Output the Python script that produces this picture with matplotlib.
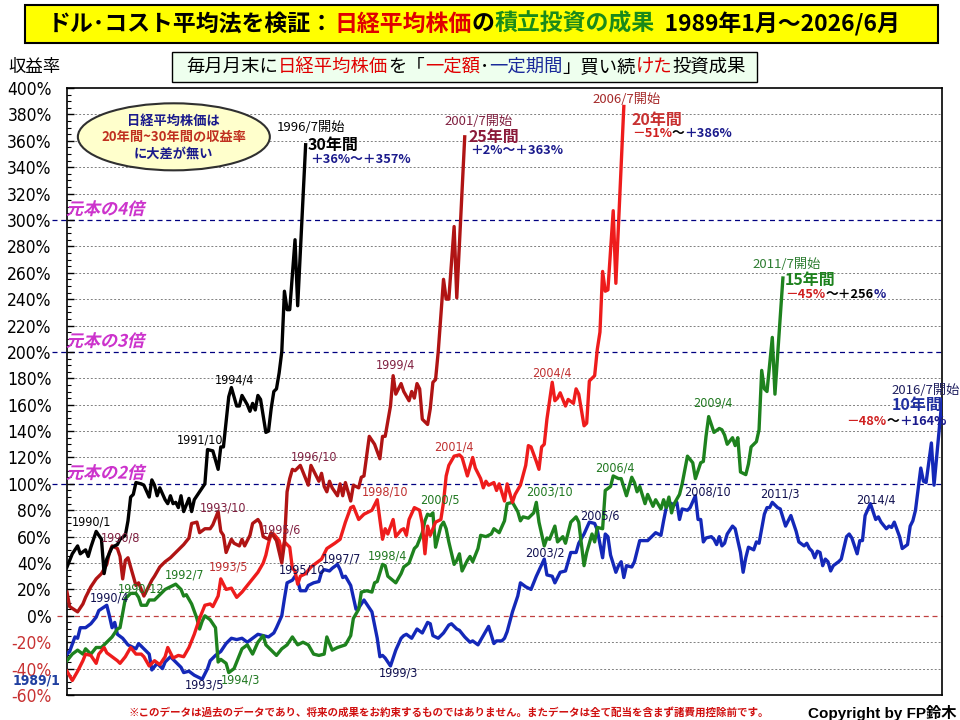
import matplotlib
matplotlib.use("Agg")
import matplotlib.pyplot as plt
import matplotlib.transforms as mtransforms
from matplotlib.patches import Ellipse, Rectangle, PathPatch
from matplotlib.textpath import TextPath
from matplotlib.font_manager import FontProperties
from matplotlib import font_manager

JP = "Noto Sans CJK JP"
_names = {f.name for f in font_manager.fontManager.ttflist}
NARROW = "Liberation Sans Narrow" if "Liberation Sans Narrow" in _names else "DejaVu Sans"

# x = months since 1989/1 (start month of the plan), y = total return in %
y30 = [(0,37),(2,47),(4,53),(5,47),(7,50),(8,45),(9,52),(11,64),(13,58),(14,32),(15,43),(17,52),
       (19,54),(20,58),(22,61),(23,72),(24,90),(25,92),(26,101),(28,100),(29,99),(31,90),(32,103),
       (33,99),(34,91),(35,97),(37,88),(38,85),(39,91),(40,85),(41,86),(42,82),(43,91),(44,79),
       (46,89),(47,79),(48,88),(50,94),(52,100),(53,126),(55,125),(57,111),(58,128),(59,128),
       (61,166),(62,173),(64,159),(65,159),(66,167),(68,160),(69,155),(70,161),(71,156),(72,167),
       (73,164),(75,139),(76,140),(77,157),(78,170),(79,172),(80,184),(81,200),(82,246),(83,232),
       (84,232),(86,285),(87,235),(90,357)]

y25 = [(0,18),(1,7),(4,3),(6,9),(7,14),(9,22),(11,28),(13,32),(15,39),(16,48),(17,53),(19,51),
       (20,45),(21,28),(22,42),(23,44),(25,30),(26,23),(27,25),(28,20),(29,15),(31,23),(32,27),
       (33,30),(35,37),(37,41),(39,44),(41,48),(42,50),(44,54),(46,59),(47,70),(49,71),(50,63),
       (52,66),(54,66),(55,69),(57,79),(58,64),(59,61),(60,48),(62,58),(63,55),(65,53),(66,58),
       (67,53),(69,61),(70,70),(72,73),(73,70),(74,60),(76,58),(77,63),(79,57),(81,40),(82,55),
       (83,94),(84,104),(85,111),(86,110),(88,114),(89,109),(91,99),(92,114),(94,106),(95,102),
       (96,108),(97,98),(98,94),(99,102),(100,97),(102,91),(103,100),(104,91),(105,101),(107,87),
       (108,99),(110,97),(111,105),(112,106),(114,136),(116,130),(118,119),(119,136),(120,136),
       (122,159),(123,182),(124,168),(126,176),(127,170),(129,163),(130,170),(131,165),(132,176),
       (133,172),(134,149),(136,145),(137,157),(138,177),(139,179),(140,200),(142,255),(143,240),
       (144,240),(146,295),(147,241),(150,363)]

y20 = [(0,-42),(2,-49),(4,-42),(6,-34),(7,-29),(9,-30),(11,-36),(12,-29),(14,-24),(15,-28),
       (17,-31),(19,-34),(20,-36),(22,-31),(24,-24),(26,-29),(28,-29),(29,-31),(31,-38),(33,-34),
       (35,-37),(37,-31),(38,-24),(40,-32),(42,-30),(44,-31),(46,-24),(48,-14),(50,-2),(52,8),
       (54,9),(55,7),(57,15),(58,28),(60,20),(62,21),(64,14),(66,18),(68,23),(70,28),(72,33),
       (74,40),(75,46),(76,55),(77,62),(78,62),(80,57),(81,48),(82,56),(84,52),(85,36),(86,34),
       (87,24),(88,30),(90,32),(92,37),(94,40),(96,43),(98,51),(101,55),(103,58),(105,71),(107,82),
       (108,83),(110,73),(112,77),(115,80),(117,88),(118,73),(119,58),(120,66),(121,62),(123,73),
       (124,60),(126,65),(127,66),(128,61),(129,73),(131,82),(133,80),(134,70),(135,47),(136,68),
       (137,61),(139,71),(141,73),(142,86),(143,106),(144,114),(146,121),(148,122),(149,120),
       (151,106),(153,120),(154,112),(156,104),(157,97),(158,102),(159,99),(161,101),(162,95),
       (163,100),(165,87),(166,100),(168,86),(169,92),(171,99),(173,114),(174,129),(175,128),
       (177,117),(178,111),(179,128),(180,130),(181,149),(182,163),(183,177),(184,163),(185,165),
       (186,169),(188,159),(189,164),(191,161),(192,172),(193,168),(195,144),(196,146),(197,178),
       (199,182),(200,202),(201,215),(202,261),(203,246),(204,247),(206,307),(207,252),(210,386)]

y15 = [(0,-34),(2,-29),(4,-26),(6,-29),(7,-25),(9,-29),(11,-24),(13,-24),(15,-20),(17,-16),
       (19,-10),(20,-9),(21,2),(22,13),(24,17),(26,17),(27,14),(28,8),(30,8),(31,12),(33,12),
       (35,16),(37,20),(39,22),(41,24),(43,20),(44,15),(45,16),(47,9),(49,-2),(50,-10),(51,-4),
       (52,0),(54,-3),(56,-9),(57,-35),(58,-33),(60,-36),(61,-43),(63,-40),(65,-30),(66,-25),
       (68,-22),(70,-29),(72,-20),(74,-15),(75,-22),(77,-26),(79,-30),(81,-25),(83,-22),(85,-16),
       (87,-22),(89,-20),(91,-22),(93,-29),(95,-30),(97,-29),(98,-16),(100,-26),(102,-24),
       (105,-22),(107,-15),(108,-2),(110,5),(111,18),(113,19),(115,18),(116,25),(117,26),(119,39),
       (120,38),(121,30),(124,25),(126,32),(127,37),(129,40),(131,51),(132,53),(134,63),(135,72),
       (136,77),(137,76),(138,78),(139,52),(141,68),(142,71),(143,66),(144,56),(146,39),(147,42),
       (148,47),(149,34),(151,42),(152,45),(153,41),(155,51),(156,61),(158,60),(160,62),(161,66),
       (163,63),(165,72),(166,85),(168,86),(170,79),(171,72),(172,75),(174,74),(176,78),(177,86),
       (178,71),(180,53),(181,59),(182,58),(184,68),(185,56),(187,60),(188,55),(190,71),(192,75),
       (193,71),(195,38),(196,48),(198,62),(199,56),(200,67),(202,66),(203,95),(205,98),(206,106),
       (208,104),(209,104),(211,91),(213,105),(214,101),(215,94),(216,98),(218,85),(219,92),
       (221,83),(222,88),(224,81),(225,88),(226,82),(227,90),(228,78),(229,85),(231,92),(232,100),
       (234,121),(236,116),(237,104),(239,116),(240,117),(241,136),(242,151),(244,139),(246,142),
       (247,141),(248,137),(249,130),(251,135),(252,129),(253,135),(254,109),(256,107),(257,115),
       (258,128),(260,132),(261,141),(262,186),(263,172),(264,170),(266,211),(267,168),(270,256)]

y10 = [(0,-29),(1,-27),(3,-16),(4,-17),(5,-9),(7,-9),(9,-6),(11,-1),(12,4),(15,8),(16,0),(17,-9),
       (18,-5),(19,-14),(21,-17),(23,-22),(25,-24),(26,-25),(27,-21),(29,-25),(31,-29),(32,-41),
       (34,-36),(35,-38),(36,-40),(37,-35),(39,-31),(41,-35),(43,-39),(44,-43),(46,-42),(48,-45),
       (49,-46),(51,-48),(53,-40),(54,-34),(56,-30),(58,-27),(60,-21),(62,-17),(64,-18),(66,-17),
       (68,-20),(70,-17),(72,-14),(74,-15),(76,-16),(78,-13),(79,-9),(81,0),(82,13),(83,25),(85,27),
       (86,30),(87,27),(88,19),(90,19),(91,23),(93,25),(95,26),(96,33),(97,35),(99,34),(100,36),
       (102,39),(103,35),(104,29),(105,30),(107,23),(108,14),(109,5),(110,6),(112,12),(113,9),
       (115,3),(117,-17),(118,-31),(119,-30),(120,-32),(122,-38),(124,-26),(126,-17),(127,-15),
       (128,-14),(130,-17),(132,-10),(134,-13),(136,-5),(137,-6),(138,-15),(140,-17),(142,-13),
       (144,-7),(145,-6),(147,-10),(148,-11),(150,-16),(152,-20),(153,-19),(155,-22),(157,-15),
       (159,-8),(161,-21),(162,-19),(164,-19),(165,-17),(166,-12),(168,3),(170,15),(171,25),
       (173,22),(175,20),(177,30),(180,43),(181,31),(183,30),(184,25),(186,33),(188,34),(189,41),
       (190,48),(192,48),(193,55),(195,62),(197,71),(199,70),(200,65),(202,44),(203,62),(204,60),
       (205,46),(207,33),(208,38),(209,41),(210,29),(211,38),(213,37),(214,41),(215,49),(216,57),
       (219,57),(221,61),(222,63),(224,61),(225,72),(226,82),(227,86),(229,84),(230,86),(231,73),
       (232,81),(234,80),(235,82),(237,91),(238,73),(239,73),(240,56),(241,59),(243,60),(244,58),
       (245,54),(246,60),(247,53),(248,55),(249,62),(251,68),(252,66),(254,48),(255,33),(256,44),
       (257,52),(259,50),(260,56),(261,55),(263,77),(264,82),(265,82),(266,86),(268,82),(269,81),
       (271,68),(273,76),(274,70),(275,64),(276,56),(278,53),(279,55),(280,51),(281,49),(282,44),
       (283,49),(284,48),(285,38),(286,43),(287,41),(288,34),(289,38),(291,41),(292,43),(294,60),
       (295,62),(296,59),(298,47),(299,57),(300,57),(301,76),(303,85),(305,73),(306,75),(307,71),
       (309,66),(310,68),(311,67),(312,71),(314,60),(315,51),(317,54),(318,68),(319,72),(320,80),
       (322,112),(323,102),(324,101),(326,131),(327,99),(330,164)]

BLACK, MAROON, RED, GREEN, BLUE = "#000000", "#B01414", "#EE1C1C", "#1E821E", "#1428B8"
NAVY = "#1A1A8C"
LBL = {"k": "#000000", "m": "#802040", "r": "#C03030", "g": "#207820", "b": "#101050"}

# (text, start month, value, colour key) for the small date labels
date_labels = [
    ("1990/1", 9.4, 71, "k"), ("1991/10", 50, 133, "k"), ("1994/4", 63, 179, "k"),
    ("1990/8", 20, 59, "m"), ("1993/10", 59, 82, "m"), ("1995/6", 81, 65, "m"),
    ("1996/10", 93, 120, "m"), ("1999/4", 124, 190, "m"),
    ("1993/5", 61, 37, "r"), ("1998/10", 120, 94, "r"), ("2001/4", 146, 128, "r"),
    ("2004/4", 183, 184, "r"),
    ("1990/12", 28, 20, "g"), ("1992/7", 44.5, 31, "g"), ("1994/3", 65.6, -48.6, "g"),
    ("1998/4", 121, 45, "g"), ("2000/5", 140.7, 88, "g"), ("2003/10", 182, 94, "g"),
    ("2006/4", 206.7, 112, "g"), ("2009/4", 243.6, 161, "g"),
    ("1990/4", 16, 13.5, "b"), ("1993/5", 51.7, -52.4, "b"), ("1995/10", 88.6, 34.7, "b"),
    ("1997/7", 103.7, 43, "b"), ("1999/3", 125, -43, "b"), ("2003/2", 180.3, 47.6, "b"),
    ("2005/6", 201, 76, "b"), ("2008/10", 241.4, 94, "b"), ("2011/3", 269, 92, "b"),
    ("2014/4", 305, 88, "b"),
]

# "x times the principal" notes: text, value of its baseline
multiple_notes = [("元本の4倍", 304), ("元本の3倍", 204), ("元本の2倍", 104)]

fig = plt.figure(figsize=(9.6, 7.2), dpi=100)
ax = fig.add_axes([67/960, 1-695/720, 875/960, 607/720])

for data, color in [(y10, BLUE), (y15, GREEN), (y20, RED), (y25, MAROON), (y30, BLACK)]:
    m, v = zip(*data)
    ax.plot(m, v, color=color, lw=2.4, solid_joinstyle="round", zorder=3)

ax.set_xlim(0, 330)
ax.set_ylim(-60, 400)
ax.set_xticks([])
yt = list(range(-60, 401, 20))
ax.set_yticks(yt)
ax.set_yticks(range(-60, 401, 5), minor=True)
ax.set_yticklabels([f"{t}%" for t in yt], fontsize=12.5, family=NARROW, fontstretch="condensed")
for lab, t in zip(ax.get_yticklabels(), yt):
    if t < 0:
        lab.set_color("#C83232")
ax.tick_params(axis="y", which="major", direction="in", length=5, width=1, pad=11)
ax.tick_params(axis="y", which="minor", direction="in", length=3, width=0.8)
for s in ax.spines.values():
    s.set_linewidth(1.2)

# grid lines
for t in range(-40, 400, 20):
    if t == 0:
        ax.axhline(t, xmin=-0.012, color="#C04040", lw=0.9, ls=(0, (4, 3)), clip_on=False, zorder=1)
    elif t in (100, 200, 300):
        ax.axhline(t, xmin=-0.017, color="#000080", lw=0.9, ls=(0, (4, 3)), clip_on=False, zorder=1)
    else:
        ax.axhline(t, color="#808080", lw=0.7, ls=(0, (2, 2)), zorder=1)

# slanted magenta notes (CJK font has no italic, so skew the glyph outlines)
fig.canvas.draw()
bold_jp = FontProperties(family=JP, weight="bold")
for txt, val in multiple_notes:
    px, py = ax.transData.transform((-0.4, val))
    tp = TextPath((0, 0), txt, size=17, prop=bold_jp)
    tr = mtransforms.Affine2D().skew_deg(14, 0).translate(px, py)
    fig.add_artist(PathPatch(tp, transform=tr, fc="#CC33CC", ec="none", zorder=4))

for txt, mm, vv, key in date_labels:
    ax.text(mm, vv, txt, color=LBL[key], fontsize=9, family=NARROW, fontstretch="condensed",
            ha="center", va="center", zorder=5)

ax.text(-11.5, -49, "1989/1", color="#2040A0", fontsize=10, weight="bold", family=NARROW,
        fontstretch="condensed", ha="center", va="center", clip_on=False)


def chain(x, y, parts, trans, size, weight="bold", family=JP):
    prev = None
    for s, c in parts:
        if prev is None:
            prev = ax.text(x, y, s, color=c, fontsize=size, weight=weight, family=family,
                           ha="left", va="center", transform=trans, clip_on=False, zorder=6)
        else:
            prev = ax.annotate(s, xy=(1, 0.5), xycoords=prev, color=c, fontsize=size,
                               weight=weight, family=family, ha="left", va="center",
                               annotation_clip=False, zorder=6)
    return prev


# end-of-series notes
ends = [
    (79.2, 369.7, "1996/7開始", BLACK, 90.9, 357, "30年間", BLACK, 91.6, 346,
     [("＋36%～＋357%", NAVY)]),
    (142.5, 374.5, "2001/7開始", "#802040", 151.6, 363, "25年間", "#8B1A3A", 152, 353,
     [("＋2%～＋363%", NAVY)]),
    (198, 391, "2006/7開始", "#A52A2A", 213, 376, "20年間", "#C83232", 213, 365.5,
     [("－51%", "#D02020"), ("～", BLACK), ("＋386%", NAVY)]),
    (258.7, 266, "2011/7開始", "#2E7D32", 270.8, 254.5, "15年間", "#1E821E", 270.8, 243.5,
     [("－45%", "#D02020"), ("～＋256", BLACK), ("%", NAVY)]),
    (311, 171, "2016/7開始", "#202060", 311, 160, "10年間", "#2030A0", 294, 147,
     [("－48%", "#D02020"), ("～", BLACK), ("＋164%", NAVY)]),
]
for sx, sy, st, sc, px, py, pt, pc, rx, ry, parts in ends:
    ax.text(sx, sy, st, color=sc, fontsize=9.5, family=JP, ha="left", va="center", clip_on=False, zorder=6)
    ax.text(px, py, pt, color=pc, fontsize=11.5, weight="bold", family=JP, ha="left", va="center",
            clip_on=False, zorder=6)
    chain(rx, ry, parts, ax.transData, 9.2)

# ellipse note
ax.add_patch(Ellipse((40.3, 363), 72.4, 50.8, fc="#FFFFCC", ec="#303030", lw=1.5, zorder=5))
ax.text(40.3, 375, "日経平均株価は", color=NAVY, fontsize=9.5, weight="bold", family=JP,
        ha="center", va="center", zorder=6)
ax.text(40.3, 363, "20年間~30年間の収益率", color="#C03020", fontsize=9.5, weight="bold", family=JP,
        ha="center", va="center", zorder=6)
ax.text(40.3, 350.5, "に大差が無い", color=NAVY, fontsize=9.5, weight="bold", family=JP,
        ha="center", va="center", zorder=6)

# title and subtitle boxes (kept below the axes so the texts stay visible)
fig.add_artist(Rectangle((25/960, 1-43/720), 913/960, 38/720, transform=fig.transFigure,
                         fc="#FFFF00", ec="black", lw=1.5, zorder=-1))
chain(48/960, 1-24/720,
      [("ドル･コスト平均法を検証：", BLACK), ("日経平均株価", "#E00000"), ("の", BLACK),
       ("積立投資の成果", "#1A8A1A"), ("  1989年1月～2026/6月", BLACK)],
      fig.transFigure, 16.5)

fig.add_artist(Rectangle((172/960, 1-82/720), 585/960, 30/720, transform=fig.transFigure,
                         fc="#EEFFEE", ec="black", lw=1.0, zorder=-1))
chain(186/960, 1-67/720,
      [("毎月月末に", BLACK), ("日経平均株価", "#E00000"), ("を「", BLACK), ("一定額", "#E00000"),
       ("･", BLACK), ("一定期間", "#1A2A9A"), ("」買い続", BLACK), ("けた", "#E00000"),
       ("投資成果", BLACK)],
      fig.transFigure, 13.2, weight="normal")

fig.text(8/960, 1-67/720, "収益率", fontsize=12.5, family=JP, ha="left", va="center")
fig.text(128/960, 1-712/720,
         "※このデータは過去のデータであり、将来の成果をお約束するものではありません。またデータは全て配当を含まず諸費用控除前です。",
         color="#D01010", fontsize=7.6, weight="bold", family=JP, ha="left", va="center")
fig.text(957/960, 1-713/720, "Copyright by FP鈴木", fontsize=11, weight="bold",
         family=["Liberation Sans", "Noto Sans CJK JP"], ha="right", va="center")

fig.savefig("out.png", dpi=100)
